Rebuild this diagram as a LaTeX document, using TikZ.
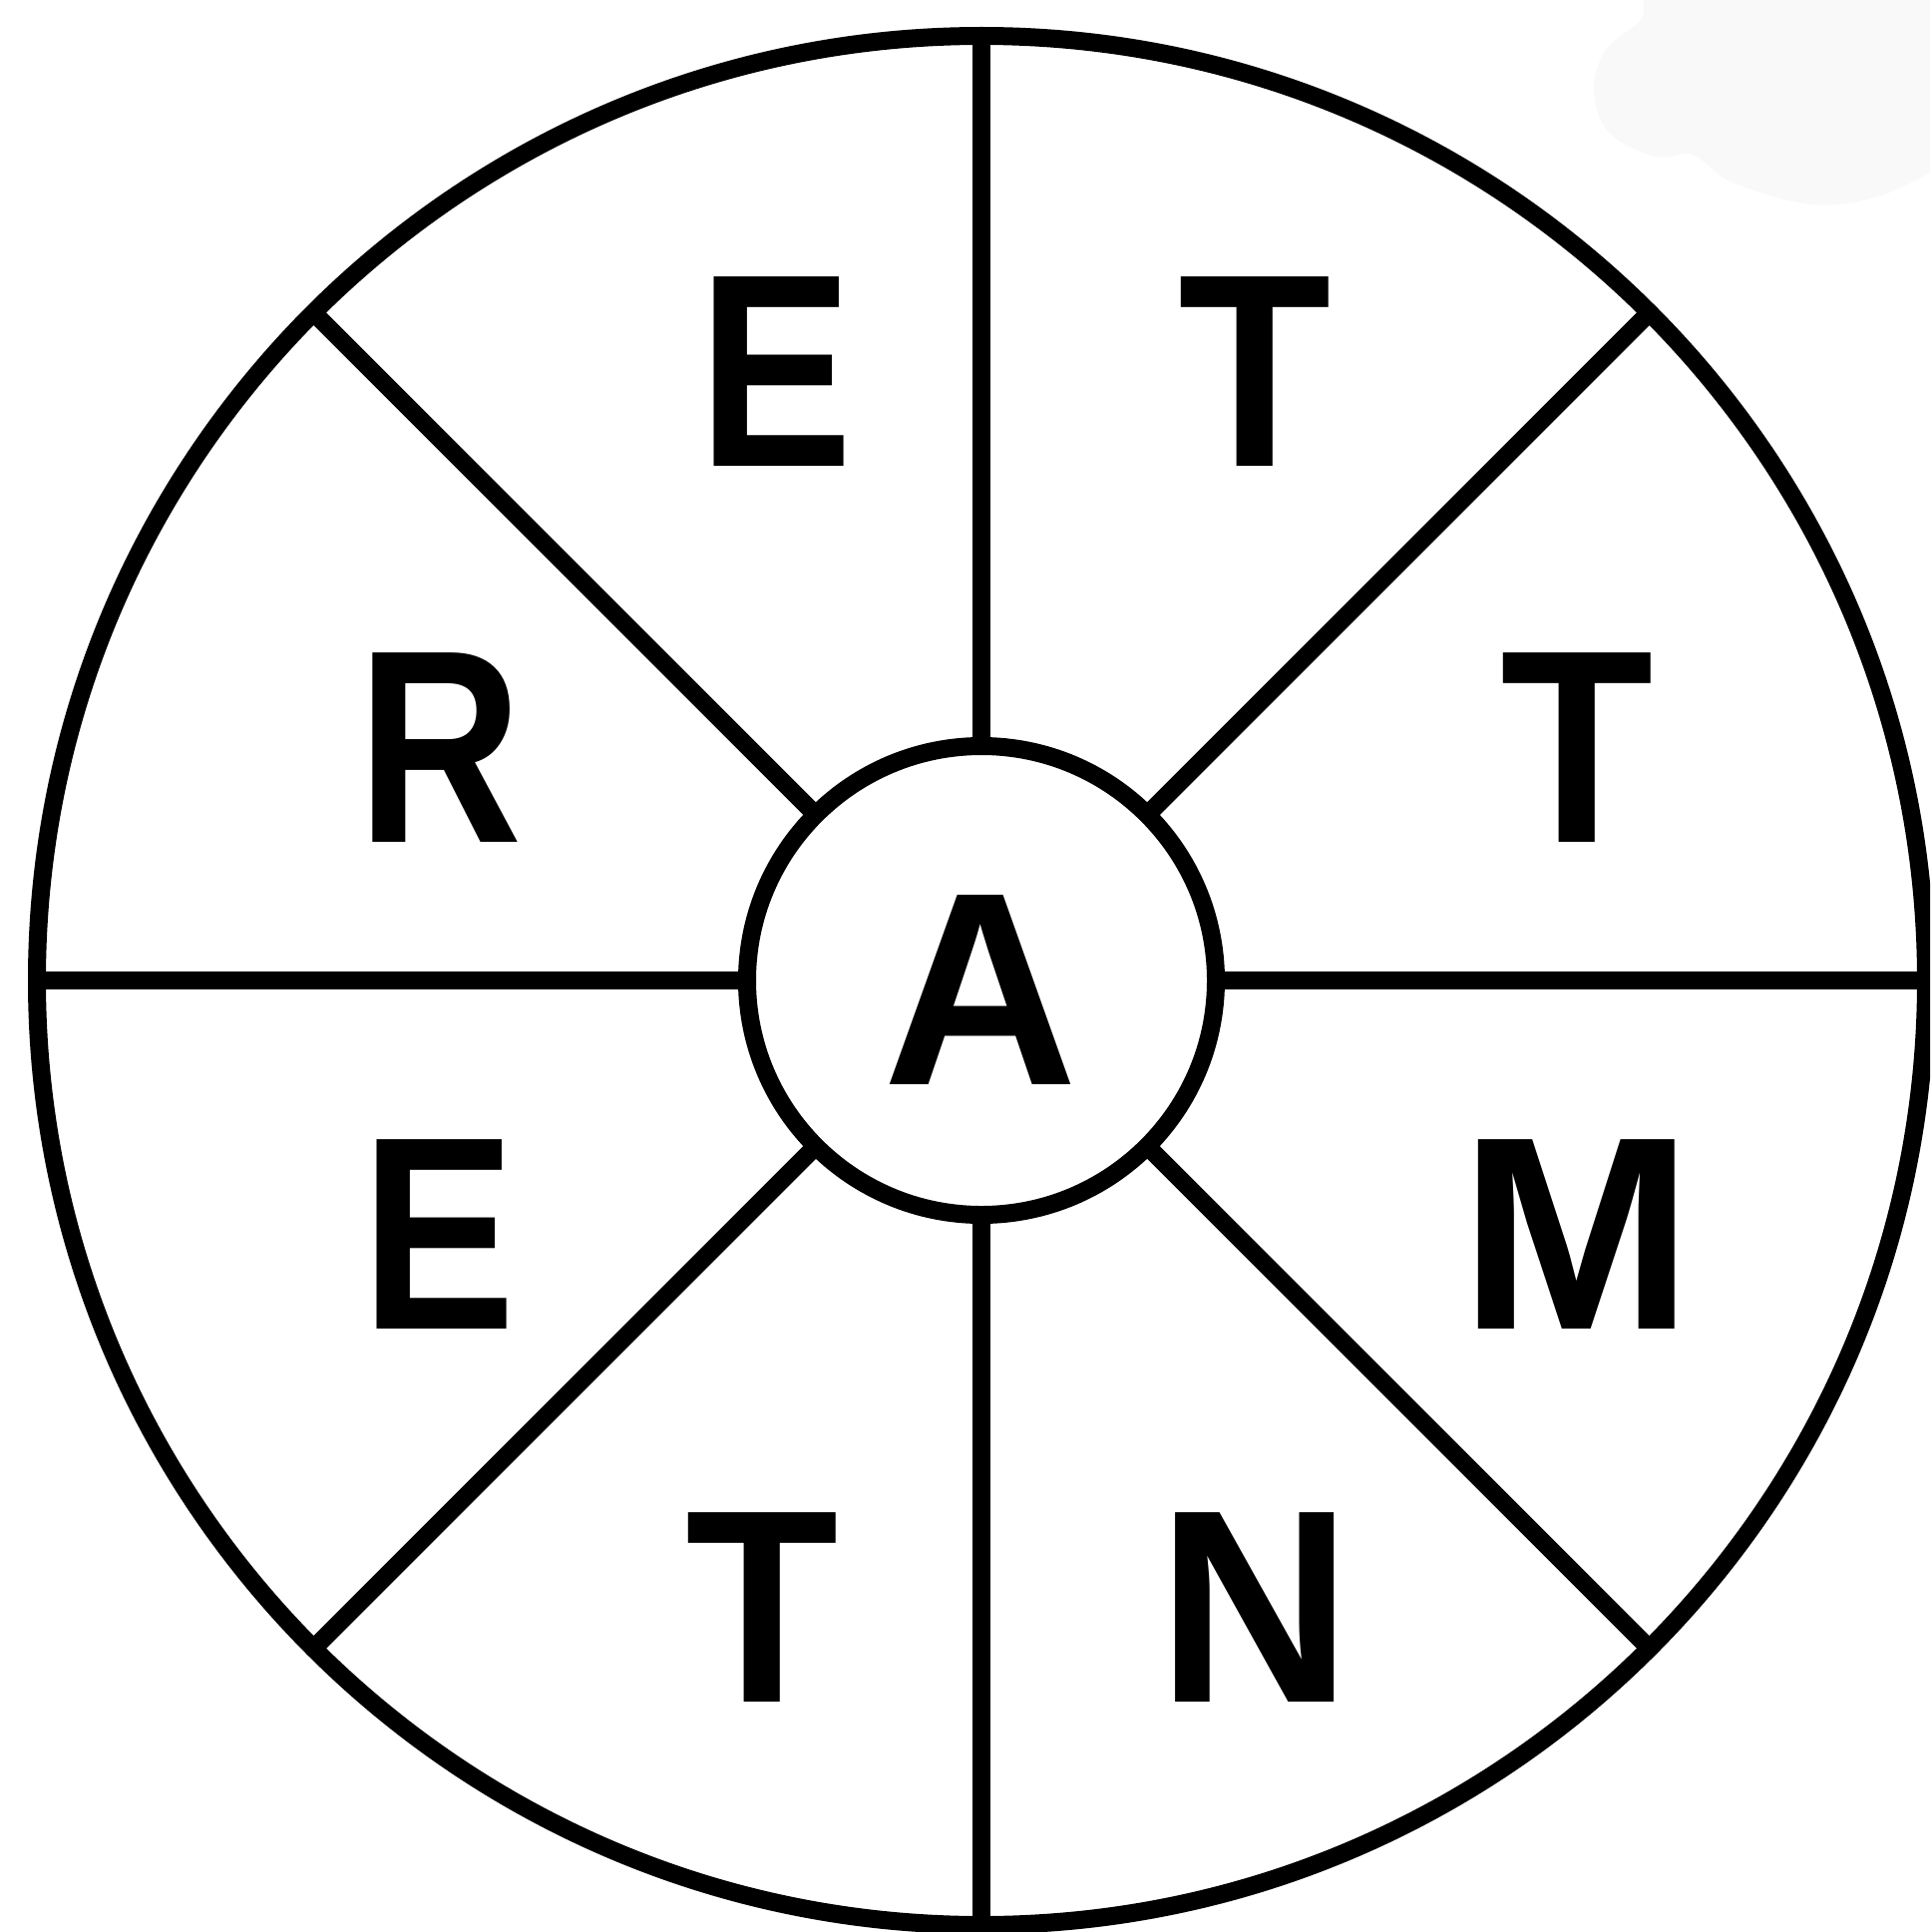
\documentclass[tikz,border=0pt]{standalone}
\usepackage{graphicx}
\usepackage{fontspec}
\setmainfont{Liberation Sans}
\definecolor{blobgray}{HTML}{F9F9F9}
\newcommand{\ltr}[2]{\scalebox{#1}[1]{#2}}
\tikzset{
  ring/.style={draw=black, line width=18pt, circle, inner sep=0pt, outer sep=0pt},
  spoke/.style={draw=black, line width=18pt},
  letter/.style={inner sep=0pt, anchor=base, font=\fontsize{276}{276}\selectfont\bfseries}
}
\begin{document}
\begin{tikzpicture}[x=1pt, y=-1pt]
\fill[white] (0,0) rectangle (1935,1937);
\useasboundingbox (0,0) rectangle (1935,1937);
\clip (0,0) rectangle (1935,1937);
% faint blob top right
\fill[blobgray] plot[smooth, tension=0.6] coordinates {(1647,0) (1645,20) (1610,50) (1598,90) (1613,133) (1660,157) (1697,155) (1737,183) (1817,205) (1883,197) (1935,173)} -- (1935,0) -- cycle;
% circles
\node[ring, minimum size=1894pt] (outer) at (984,983) {};
\node[ring, minimum size=470pt] (inner) at (984,983) {};
% spokes
\foreach \a in {0,45,...,315}
  \draw[spoke] (inner.\a) -- (outer.\a);
% letters
\node[letter] (l1) at (778,467) {\ltr{0.84}{E}};
\node[letter] (l2) at (1258,467) {\ltr{0.91}{T}};
\node[letter] (l3) at (441,844) {\ltr{0.83}{R}};
\node[letter] (l4) at (1581,844) {\ltr{0.91}{T}};
\node[letter] (l5) at (983,1087) {\ltr{0.98}{A}};
\node[letter] (l6) at (440,1332) {\ltr{0.84}{E}};
\node[letter] (l7) at (1581,1332) {\ltr{1.02}{M}};
\node[letter] (l8) at (764,1706) {\ltr{0.91}{T}};
\node[letter] (l9) at (1258,1706) {\ltr{0.98}{N}};
\end{tikzpicture}
\end{document}
